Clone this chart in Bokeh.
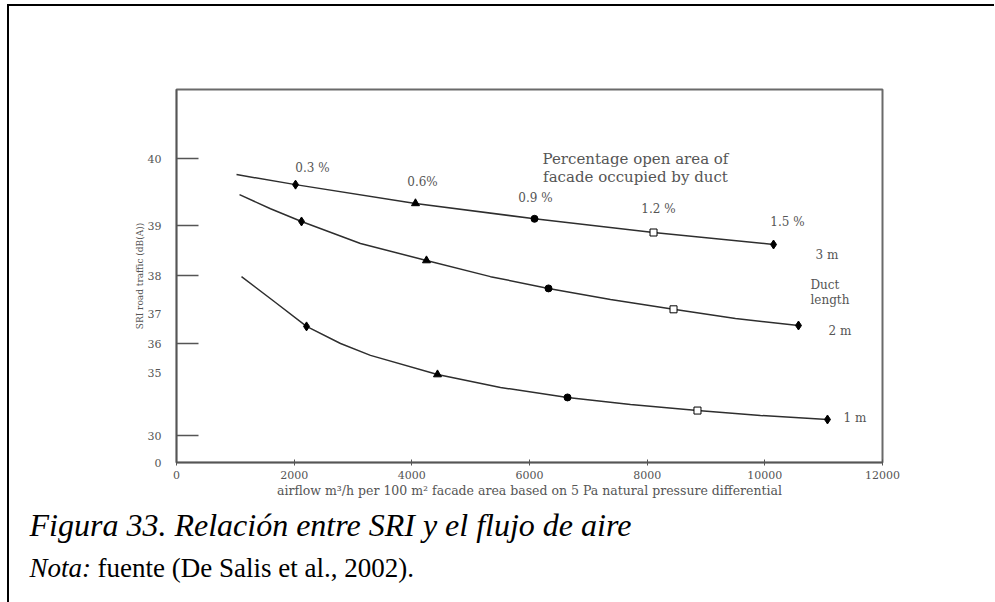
import numpy as np
from bokeh.plotting import figure
from bokeh.layouts import column
from bokeh.models import Range1d, FixedTicker, Label
from bokeh.embed import file_html
from bokeh.resources import INLINE

# ---- broken SRI axis of the original figure: tick values and their drawn heights
SRI_TICKS = [0, 30, 35, 36, 37, 38, 39, 40]
SRI_TICK_HEIGHT = [0, 27, 90, 119, 149, 187, 237, 304]
SRI_TICKS_WITH_MARK = [30, 36, 38, 39, 40]
AIRFLOW_TICKS = [0, 2000, 4000, 6000, 8000, 10000, 12000]

OPEN_AREA_LABELS = ["0.3 %", "0.6%", "0.9 %", "1.2 %", "1.5 %"]
DUCT_LABELS = ["3 m", "2 m", "1 m"]

# ---- curves (airflow m3/h, SRI dB(A))
AIRFLOW_3M = [1020, 2023, 4062, 6085, 8108, 10148]
SRI_3M = [39.76, 39.61, 39.33, 39.10, 38.86, 38.62]
MARKS_3M = [1, 2, 3, 4, 5]

AIRFLOW_2M = [1071, 1598, 2125, 3127, 4249, 5337, 6323, 7377, 8448, 9501, 10572]
SRI_2M = [39.46, 39.25, 39.06, 38.64, 38.30, 37.97, 37.66, 37.37, 37.11, 36.83, 36.60]
MARKS_2M = [2, 4, 6, 8, 10]

AIRFLOW_1M = [1105, 1683, 2210, 2788, 3297, 4436, 5507, 6646, 7717, 8855, 9926, 11065]
SRI_1M = [37.97, 37.29, 36.57, 36.00, 35.59, 34.84, 33.81, 33.02, 32.46, 31.98, 31.59, 31.27]
MARKS_1M = [2, 5, 7, 9, 11]

CAPTION = "Figura 33. Relación entre SRI y el flujo de aire"
NOTE_HEAD = "Nota:"
NOTE_BODY = "fuente (De Salis et al., 2002)."


def to_h(v):
    return np.interp(np.asarray(v, dtype=float), SRI_TICKS, SRI_TICK_HEIGHT)


GREY = "#555555"
SERIF = "DejaVu Serif"

p = figure(width=985, height=494, output_backend="svg", toolbar_location=None,
           x_range=Range1d(0, 12000), y_range=Range1d(0, 373),
           min_border_left=167, min_border_right=112, min_border_top=83,
           min_border_bottom=38)
p.frame_align = False
p.xgrid.visible = False
p.ygrid.visible = False
p.outline_line_color = "#6a6a6a"
p.outline_line_width = 2
p.background_fill_color = "white"
p.border_fill_color = "white"

# x axis
xa = p.xaxis[0]
xa.ticker = FixedTicker(ticks=AIRFLOW_TICKS)
xa.major_tick_in = 3
xa.major_tick_out = 3
xa.minor_tick_line_color = None
xa.axis_line_color = GREY
xa.axis_line_width = 1.5
xa.major_tick_line_color = GREY
xa.major_label_standoff = 5
xa.major_label_text_font = SERIF
xa.major_label_text_font_size = "11px"
xa.major_label_text_color = GREY
xa.axis_label = "airflow m\u00b3/h per 100 m\u00b2 facade area based on 5 Pa natural pressure differential"
xa.axis_label_text_font = SERIF
xa.axis_label_text_font_style = "normal"
xa.axis_label_text_font_size = "12.5px"
xa.axis_label_text_color = GREY
xa.axis_label_standoff = 1

# y axis (broken scale)
ya = p.yaxis[0]
ya.ticker = FixedTicker(ticks=SRI_TICK_HEIGHT,
                        minor_ticks=[float(h) for h in to_h(SRI_TICKS_WITH_MARK)])
ya.major_label_overrides = {h: str(v) for h, v in zip(SRI_TICK_HEIGHT, SRI_TICKS)}
ya.major_tick_line_color = None
ya.minor_tick_in = 22
ya.minor_tick_out = 0
ya.minor_tick_line_color = GREY
ya.minor_tick_line_width = 1.5
ya.axis_line_color = GREY
ya.axis_line_width = 1.5
ya.major_label_standoff = 9
ya.major_label_text_font = SERIF
ya.major_label_text_font_size = "11px"
ya.major_label_text_color = GREY
ya.axis_label = "SRI road traffic (dB(A))"
ya.axis_label_text_font = SERIF
ya.axis_label_text_font_style = "normal"
ya.axis_label_text_font_size = "9px"
ya.axis_label_text_color = GREY
ya.axis_label_standoff = 0

# curves
curves = [(AIRFLOW_3M, SRI_3M, MARKS_3M), (AIRFLOW_2M, SRI_2M, MARKS_2M),
          (AIRFLOW_1M, SRI_1M, MARKS_1M)]
marker_style = [
    dict(marker="diamond", size=9, fill_color="black"),
    dict(marker="triangle", size=8, fill_color="black"),
    dict(marker="circle", size=7, fill_color="black"),
    dict(marker="square", size=7, fill_color="white"),
    dict(marker="diamond", size=9, fill_color="black"),
]
for xs, ys, marks in curves:
    p.line(xs, to_h(ys), line_color="#2e2e2e", line_width=1.5)
for k, st in enumerate(marker_style):
    mx = [c[0][c[2][k]] for c in curves]
    my = to_h([c[1][c[2][k]] for c in curves])
    p.scatter(mx, my, line_color="black", line_width=1, **st)


def lab(fig, text, sx, sy, size="12px", align="center", font=SERIF, color=GREY,
        style="normal", baseline="middle"):
    fig.add_layout(Label(x=sx, y=sy, x_units="screen", y_units="screen", text=text,
                         text_font=font, text_font_size=size, text_color=color,
                         text_align=align, text_baseline=baseline,
                         text_font_style=style))


# frame origin on page: left 176, bottom 462
FL, FB = 176, 462
pct_pos = [(312, 167), (422, 181), (535, 197), (658, 208), (787, 221)]
for t, (px, py) in zip(OPEN_AREA_LABELS, pct_pos):
    lab(p, t, px - FL, FB - py, size="12px")
lab(p, "Percentage open area of", 635 - FL, FB - 158, size="15px")
lab(p, "facade occupied by duct", 635 - FL, FB - 176, size="15px")
duct_pos = [(815, 254), (828, 330), (843, 417)]
for t, (px, py) in zip(DUCT_LABELS, duct_pos):
    lab(p, t, px - FL, FB - py, size="12px", align="left")
lab(p, "Duct", 810 - FL, FB - 284, size="12px", align="left")
lab(p, "length", 810 - FL, FB - 299, size="12px", align="left")

# caption panel (page y 500..602, x 9..994)
cap = figure(width=985, height=102, output_backend="svg", toolbar_location=None,
             x_range=Range1d(0, 985), y_range=Range1d(0, 102),
             min_border=0, x_axis_type=None, y_axis_type=None)
cap.frame_align = False
cap.xgrid.visible = False
cap.ygrid.visible = False
cap.outline_line_color = None
cap.background_fill_color = "white"
cap.border_fill_color = "white"
CL, CB = 9, 602
lab(cap, CAPTION, 29 - CL, CB - 524, size="32px", align="left",
    font="Liberation Serif", color="black", style="italic")
lab(cap, NOTE_HEAD, 29 - CL, CB - 567, size="27px", align="left",
    font="Liberation Serif", color="black", style="italic")
lab(cap, NOTE_BODY, 97 - CL, CB - 567, size="27px", align="left",
    font="Liberation Serif", color="black")

layout = column(p, cap, spacing=0)
layout.styles = {"margin-left": "7px", "margin-top": "4px",
                 "border-top": "2px solid black", "border-left": "2px solid black"}

open("out.html", "w").write(file_html(layout, INLINE))
